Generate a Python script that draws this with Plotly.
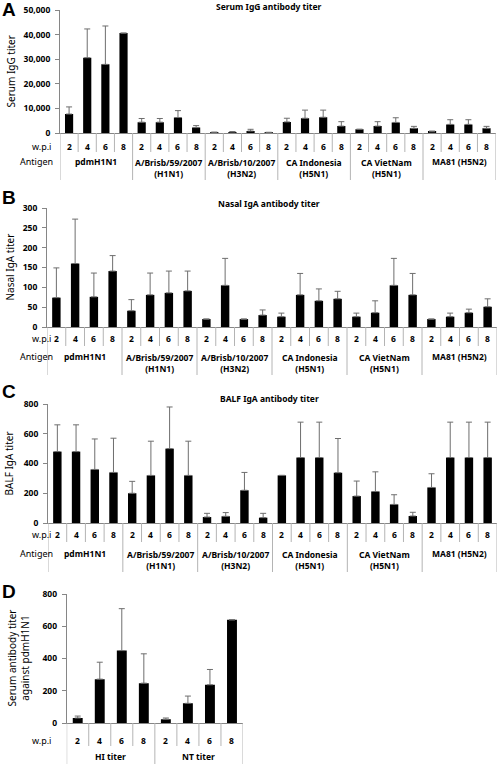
import plotly.graph_objects as go

W, H = 498, 764

# ---------------- data ----------------
antigens = ["pdmH1N1", "A/Brisb/59/2007<br>(H1N1)", "A/Brisb/10/2007<br>(H3N2)",
            "CA Indonesia<br>(H5N1)", "CA VietNam<br>(H5N1)", "MA81 (H5N2)"]
wpi = ["2", "4", "6", "8"]

igg_mean = [7700, 30600, 27900, 40600, 4400, 4400, 6300, 2200, 250, 400, 800, 200,
            4500, 6000, 6400, 2800, 1500, 2800, 4300, 1900, 500, 3500, 3500, 1900]
igg_sd = [2900, 11700, 15600, 0, 1500, 1500, 2800, 800, 100, 200, 700, 100,
          1500, 3300, 2900, 1800, 0, 1800, 1900, 800, 300, 1900, 1900, 800]

nasal_mean = [74, 160, 76, 141, 41, 81, 86, 91, 20, 105, 20, 30,
              26, 81, 66, 71, 26, 36, 105, 81, 20, 26, 36, 51]
nasal_sd = [75, 112, 60, 39, 28, 55, 55, 50, 0, 68, 0, 13,
            9, 54, 30, 19, 9, 30, 68, 54, 0, 9, 9, 20]

balf_mean = [480, 480, 360, 340, 200, 320, 500, 320, 40, 45, 220, 36,
             320, 440, 440, 338, 181, 212, 125, 47, 239, 440, 440, 440]
balf_sd = [180, 180, 205, 230, 80, 230, 280, 230, 25, 25, 120, 29,
           0, 238, 238, 230, 101, 132, 65, 25, 92, 238, 238, 238]

d_groups = ["HI titer", "NT titer"]
d_mean = [31, 272, 449, 247, 23, 122, 237, 640]
d_sd = [12, 105, 260, 182, 8, 45, 95, 0]

FONT = "Noto Sans, DejaVu Sans, sans-serif"
AX = "#868686"
SEP = "#b4b4b4"
ERR = "#6e6e6e"


def px(x):
    return x / W


def py(y):
    return 1 - y / H


fig = go.Figure()

panels = [
    dict(v=igg_mean, s=igg_sd, g=antigens, xl=60, xr=495.6, yt=10, yb=133, ymax=50000, dt=10000,
         title="Serum IgG antibody titer", title_y=6, ytitle="Serum IgG titer", ytx=11,
         letter="A", letter_y=9, wrow=146, grow=[161, 174], wsep=152, gsep=180, fmt=","),
    dict(v=nasal_mean, s=nasal_sd, g=antigens, xl=47, xr=497, yt=208, yb=327, ymax=300, dt=50,
         title="Nasal IgA antibody titer", title_y=203, ytitle="Nasal IgA titer", ytx=9,
         letter="B", letter_y=197, wrow=339, grow=[356, 370], wsep=346, gsep=375, fmt=""),
    dict(v=balf_mean, s=balf_sd, g=antigens, xl=48, xr=497, yt=404, yb=523, ymax=800, dt=200,
         title="BALF IgA antibody titer", title_y=398, ytitle="BALF IgA titer", ytx=9,
         letter="C", letter_y=391, wrow=534, grow=[553, 567], wsep=542, gsep=572, fmt=""),
    dict(v=d_mean, s=d_sd, g=d_groups, xl=66.7, xr=243, yt=594, yb=723, ymax=800, dt=200,
         title=None, title_y=None, ytitle="Serum antibody titer<br>against pdmH1N1", ytx=18,
         letter="D", letter_y=591, wrow=740, grow=[756], wsep=746, gsep=764, fmt=""),
]

shapes = []
annotations = []

for k, p in enumerate(panels):
    n = len(p["v"])
    idx = "" if k == 0 else str(k + 1)
    xa = "x" + idx
    ya = "y" + idx
    xs = list(range(n))
    fig.add_trace(go.Bar(
        x=xs, y=p["v"], xaxis=xa, yaxis=ya, width=0.45,
        marker=dict(color="black", line=dict(width=0)),
        error_y=dict(type="data", array=p["s"], arrayminus=[0] * n, symmetric=False,
                     color=ERR, thickness=1, width=3),
        showlegend=False, hoverinfo="skip"))

    fig.update_layout(**{
        "xaxis" + idx: dict(domain=[px(p["xl"]), px(p["xr"])], range=[-0.5, n - 0.5],
                            anchor=ya, showline=True, linecolor=AX, linewidth=1,
                            showticklabels=False, ticks="", showgrid=False, zeroline=False,
                            automargin=False, fixedrange=True),
        "yaxis" + idx: dict(domain=[py(p["yb"]), py(p["yt"])], range=[0, p["ymax"]],
                            anchor=xa, dtick=p["dt"], tick0=0, tickformat=p["fmt"],
                            showline=True, linecolor=AX, linewidth=1, ticks="outside",
                            ticklen=4, tickcolor=AX, showgrid=False, zeroline=False,
                            ticklabelstandoff=3, automargin=False,
                            tickfont=dict(family=FONT, size=8.5, color="black", weight="bold"),
                            fixedrange=True),
    })

    for i in range(n + 1):
        xpos = i - 0.5
        is_group = (i % 4 == 0)
        shapes.append(dict(type="line", xref=xa, yref="paper", x0=xpos, x1=xpos,
                           y0=py(p["yb"]), y1=py(p["gsep"] if is_group else p["wsep"]),
                           line=dict(color=SEP, width=1)))
    for i in range(n):
        annotations.append(dict(text=wpi[i % 4], xref=xa, yref="paper", x=i, y=py(p["wrow"]),
                                showarrow=False, yanchor="middle", xanchor="center",
                                font=dict(family=FONT, size=8.5, color="black", weight="bold")))
    for gi, gname in enumerate(p["g"]):
        gy = p["grow"][0] if "<br>" not in gname else (p["grow"][0] + p["grow"][-1]) / 2
        annotations.append(dict(text=gname, xref=xa, yref="paper", x=gi * 4 + 1.5,
                                y=py(gy), showarrow=False, yanchor="middle", xanchor="center",
                                font=dict(family=FONT, size=8.5, color="black", weight="bold")))
    annotations.append(dict(text="w.p.i", xref="paper", yref="paper", x=px(53), y=py(p["wrow"]),
                            xanchor="right", yanchor="middle", showarrow=False,
                            font=dict(family=FONT, size=9, color="black")))
    if k < 3:
        annotations.append(dict(text="Antigen", xref="paper", yref="paper", x=px(55),
                                y=py(p["grow"][0]), xanchor="right", yanchor="middle",
                                showarrow=False, font=dict(family=FONT, size=9, color="black")))
    if p["title"]:
        annotations.append(dict(text=p["title"], xref="paper", yref="paper", x=px(269),
                                y=py(p["title_y"]), xanchor="center", yanchor="middle",
                                showarrow=False,
                                font=dict(family=FONT, size=8.5, color="black", weight="bold")))
    annotations.append(dict(text=p["ytitle"], xref="paper", yref="paper", x=px(p["ytx"]),
                            y=py((p["yt"] + p["yb"]) / 2), xanchor="center", yanchor="middle",
                            textangle=-90, showarrow=False,
                            font=dict(family=FONT, size=10, color="black")))
    annotations.append(dict(text=p["letter"], xref="paper", yref="paper", x=px(0),
                            y=py(p["letter_y"]), xanchor="left", yanchor="middle",
                            showarrow=False,
                            font=dict(family="Liberation Sans, Arial, sans-serif", size=19,
                                      color="black", weight="bold")))

fig.update_layout(template="none", width=W, height=H, margin=dict(l=0, r=0, t=0, b=0, pad=0),
                  paper_bgcolor="white", plot_bgcolor="white",
                  shapes=shapes, annotations=annotations, bargap=0.55)

fig.write_html("out.html", config={"displayModeBar": False},
               post_script="document.body.style.margin='0px';"
                           "document.body.style.overflow='hidden';")
